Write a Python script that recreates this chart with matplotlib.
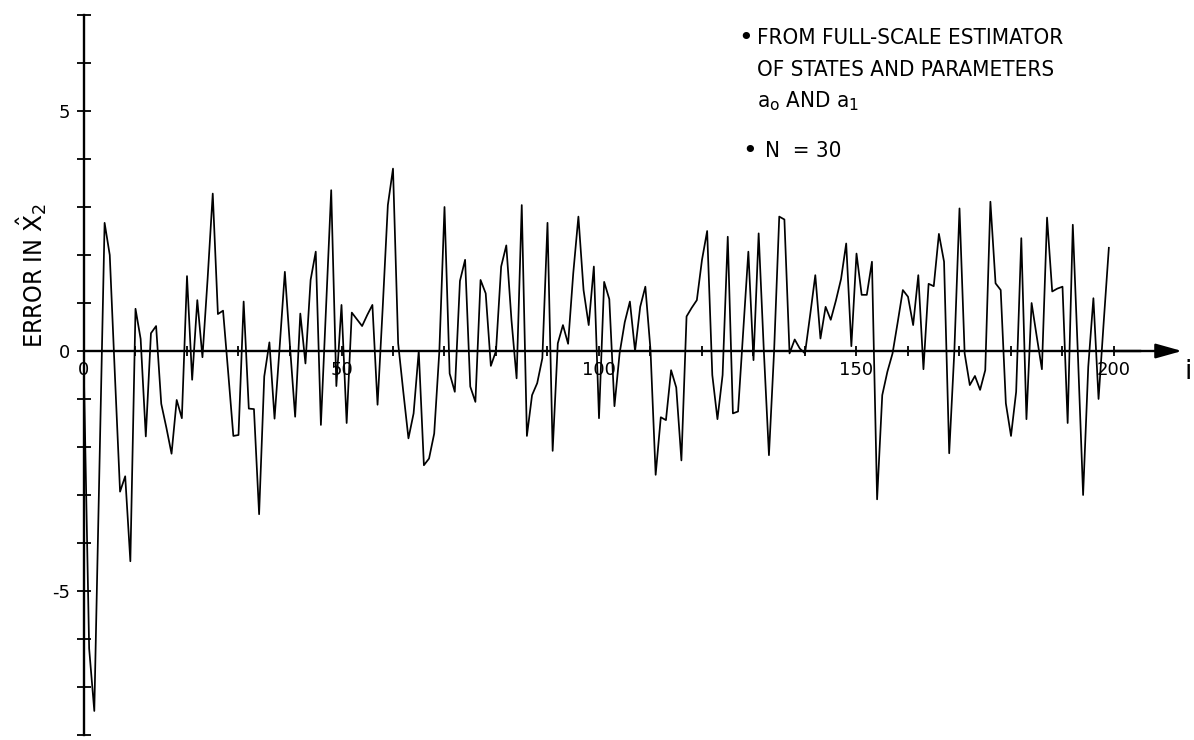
import numpy as np
import matplotlib
matplotlib.use("Agg")
import matplotlib.pyplot as plt
from matplotlib import font_manager as fm

# error in x2-hat at each sample i
err = [
    -0.6, -6.2, -7.5, -2.4, 2.67, 2.0, -0.5, -2.93, -2.61, -4.38,
    0.88, 0.25, -1.78, 0.37, 0.52, -1.1, -1.6, -2.14, -1.02, -1.4,
    1.56, -0.6, 1.06, -0.13, 1.5, 3.28, 0.77, 0.84, -0.45, -1.77,
    -1.75, 1.03, -1.2, -1.21, -3.4, -0.53, 0.18, -1.41, 0.1, 1.65,
    0.09, -1.37, 0.78, -0.26, 1.48, 2.07, -1.54, 0.9, 3.35, -0.73,
    0.96, -1.5, 0.8, 0.66, 0.52, 0.75, 0.96, -1.12, 0.9, 3.04,
    3.8, 0.16, -0.85, -1.82, -1.3, 0.0, -2.38, -2.24, -1.72, 0.0,
    3.0, -0.47, -0.85, 1.46, 1.9, -0.74, -1.06, 1.48, 1.2, -0.31,
    0.0, 1.76, 2.2, 0.65, -0.57, 3.04, -1.77, -0.92, -0.67, -0.15,
    2.67, -2.08, 0.16, 0.54, 0.15, 1.62, 2.8, 1.27, 0.54, 1.76,
    -1.4, 1.44, 1.08, -1.15, -0.05, 0.6, 1.03, 0.0, 0.92, 1.34,
    0.02, -2.58, -1.38, -1.44, -0.4, -0.76, -2.28, 0.72, 0.9, 1.06,
    1.9, 2.5, -0.5, -1.42, -0.5, 2.38, -1.3, -1.26, 0.4, 2.07,
    -0.19, 2.45, 0.02, -2.17, 0.0, 2.8, 2.74, -0.05, 0.24, 0.05,
    -0.05, 0.75, 1.58, 0.26, 0.92, 0.65, 1.05, 1.5, 2.24, 0.1,
    2.03, 1.17, 1.17, 1.86, -3.09, -0.92, -0.43, -0.05, 0.6, 1.27,
    1.13, 0.54, 1.58, -0.38, 1.4, 1.35, 2.44, 1.86, -2.13, 0.0,
    2.97, -0.05, -0.71, -0.52, -0.81, -0.4, 3.11, 1.41, 1.27, -1.09,
    -1.77, -0.85, 2.35, -1.42, 1.0, 0.3, -0.38, 2.78, 1.24, 1.3,
    1.34, -1.5, 2.63, -0.1, -3.0, -0.33, 1.1, -1.0, 0.6, 2.15,
]
i = np.arange(len(err))

xticks = list(range(0, 201, 10))
xlabels = ["0", "50", "100", "150", "200"]
yticks = list(range(-8, 8))
ylabels = ["-5", "0", "5"]

# narrow lettering: use a condensed face if one is installed
narrow = [f for f in fm.fontManager.ttflist
          if ("Narrow" in f.name or "Condensed" in f.name or f.stretch in ("condensed", "semi-condensed"))
          and f.weight in (400, "normal", "regular") and f.style == "normal"]
if narrow:
    FONT = dict(family=[narrow[0].name, "DejaVu Sans"], stretch=narrow[0].stretch)
    FS, FS_LAB = 16, 18
else:
    FONT = dict(family=["Liberation Sans", "DejaVu Sans"])
    FS, FS_LAB = 14.5, 16
W, H = 1194, 740

fig = plt.figure(figsize=(W / 100, H / 100), dpi=100)
ax = fig.add_axes([0, 0, 1, 1])
ax.set_xlim(-84 / 5.15, (W - 84) / 5.15)
ax.set_ylim(-(H - 351) / 48, 351 / 48)

ax.plot(i, err, color="black", lw=1.25)

for s in ("top", "right"):
    ax.spines[s].set_visible(False)
ax.spines["left"].set_position(("data", 0))
ax.spines["bottom"].set_position(("data", 0))
ax.spines["left"].set_bounds(-8, 7)
ax.spines["bottom"].set_bounds(0, 205)
ax.spines["left"].set_linewidth(1.7)
ax.spines["bottom"].set_linewidth(1.7)

ax.set_xticks(xticks)
ax.set_xticklabels([str(t) if str(t) in xlabels else "" for t in xticks])
ax.set_yticks(yticks)
ax.set_yticklabels([str(t) if str(t) in ylabels else "" for t in yticks])
ax.tick_params(axis="x", direction="inout", length=7, width=1.3, pad=4, labelsize=13)
ax.tick_params(axis="y", direction="inout", length=10, width=1.3, pad=5, labelsize=13)

ax.annotate("", xy=((1182 - 84) / 5.15, 0), xytext=(200, 0),
            arrowprops=dict(arrowstyle="-|>,head_length=1.0,head_width=0.28",
                            mutation_scale=16, color="black", lw=1.7,
                            shrinkA=0, shrinkB=0))


def ftext(px, py, s, **kw):
    fig.text(px / W, 1 - py / H, s, **kw)


ftext(1188, 372, "i", ha="center", va="center", fontsize=19)
ftext(32, 275, r"ERROR IN $\hat{\mathrm{X}}_2$", rotation=90, ha="center", va="center",
      fontsize=FS_LAB, **FONT)

ftext(746, 38, "\u2022", ha="center", va="center", fontsize=18)
ftext(757, 38, "FROM FULL-SCALE ESTIMATOR", ha="left", va="center", fontsize=FS, **FONT)
ftext(757, 70, "OF STATES AND PARAMETERS", ha="left", va="center", fontsize=FS, **FONT)
ftext(757, 101, r"a$_{\mathrm{o}}$ AND a$_{\mathrm{1}}$", ha="left", va="center",
      fontsize=FS, **FONT)
ftext(750, 151, "\u2022", ha="center", va="center", fontsize=18)
ftext(765, 151, "N  = 30", ha="left", va="center", fontsize=FS, **FONT)

fig.savefig("out.png", dpi=100)
